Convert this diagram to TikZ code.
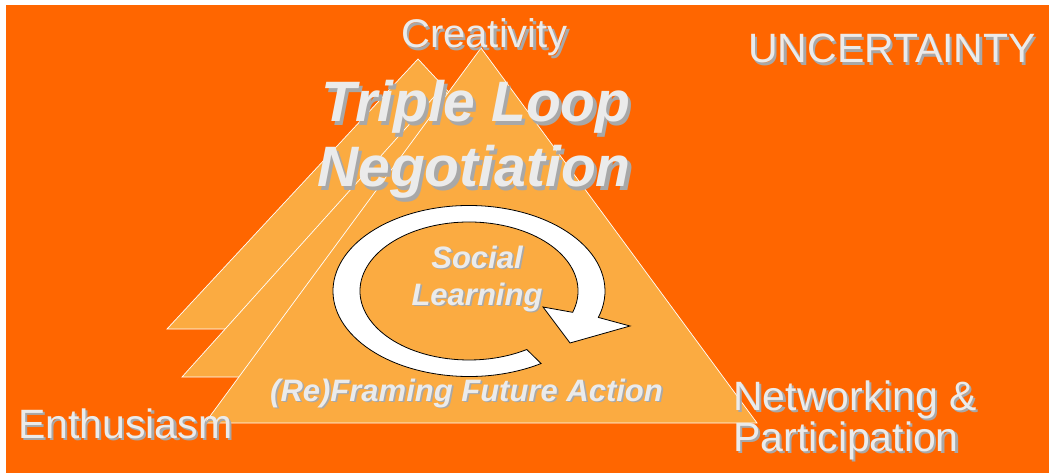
\documentclass[tikz,border=0pt]{standalone}
\usepackage{fontspec}
\setmainfont{Liberation Sans}
\usetikzlibrary{positioning}

\definecolor{bgorange}{HTML}{FF6600}
\definecolor{triorange}{HTML}{FBAB41}
\definecolor{textgray}{HTML}{EBEBEB}
\definecolor{shadowgray}{HTML}{A8A8A8}
\newcommand{\shd}[1]{\rlap{\kern.055em\raisebox{-.055em}{\textcolor{shadowgray}{#1}}}#1}

\begin{document}
\begin{tikzpicture}[
		x=1pt, y=-1pt,
		tri/.style={draw=white, line width=0.7pt, fill=triorange},
		looparrow/.style={draw=black, line width=0.8pt, fill=white},
		cornertext/.style={text=textgray, inner sep=0pt, anchor=base west, font=\fontsize{41}{41}\selectfont},
		titletext/.style={text=textgray, inner sep=0pt, anchor=base, font=\fontsize{57}{65}\selectfont\bfseries\itshape},
		looptext/.style={text=textgray, inner sep=0pt, font=\fontsize{31}{37}\selectfont\bfseries\itshape},
	]
		\useasboundingbox (0,0) rectangle (1049,473);
		\fill[white] (0,0) rectangle (1049,473);
		\fill[bgorange] (6,5) rectangle (1049,473);

		\draw[tri] (418,59) -- (669,329) -- (167,329) -- cycle;
		\draw[tri] (442,88) -- (702,377) -- (182,377) -- cycle;
		\draw[tri] (481,48) -- (757,423) -- (205,423) -- cycle;

		\coordinate (loopc) at (469,291);
		\draw[looparrow] ([shift={(58:136 and 85.5)}]loopc)
			arc[start angle=58, end angle=378, x radius=136, y radius=85.5]
			-- (630,326) -- (570,343) -- (543,307)
			-- ([shift={(378:109 and 69)}]loopc)
			arc[start angle=378, end angle=58, x radius=109, y radius=69] -- cycle;

		\node[cornertext, font=\fontsize{40}{40}\selectfont] (creativity) at (401,48) {\shd{Creativity}};
		\node[cornertext] (uncertainty) at (748,63) {\shd{UNCERTAINTY}};
		\node[cornertext] (enthusiasm) at (18,438) {\shd{Enthusiasm}};
		\node[cornertext] (networking) at (733,410) {\shd{Networking \&}};
		\node[cornertext] (participation) at (733,451) {\shd{Participation}};

		\node[titletext] (triple) at (476,122) {\shd{Triple Loop}};
		\node[titletext] (negotiation) at (474,187) {\shd{Negotiation}};

		\node[looptext, anchor=base] (social) at (477,268) {\shd{Social}};
		\node[looptext, anchor=base] (learning) at (477,305) {\shd{Learning}};
		\node[looptext, anchor=base west] (reframing) at (270,401) {\shd{(Re)Framing Future Action}};
	\end{tikzpicture}
\end{document}
